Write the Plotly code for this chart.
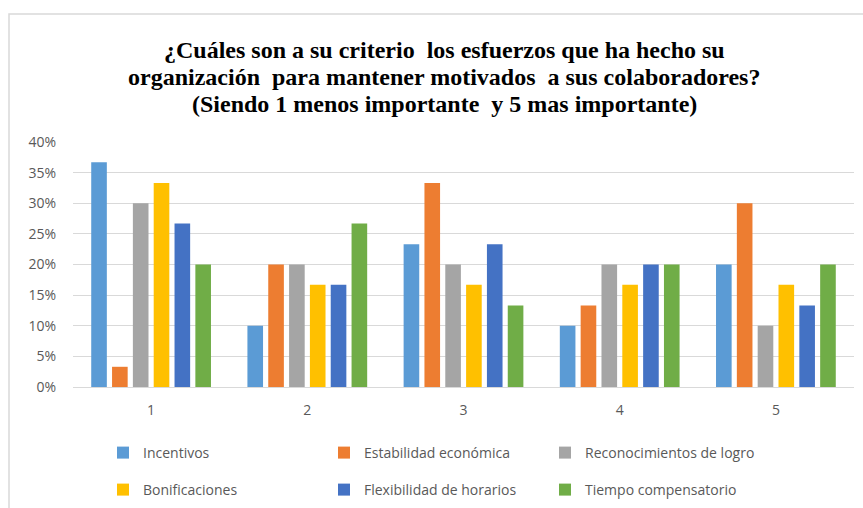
import plotly.graph_objects as go

# Survey results: share of respondents per rating (1 = least, 5 = most important)
ratings = ["1", "2", "3", "4", "5"]

incentivos = [0.367, 0.100, 0.233, 0.100, 0.200]
estabilidad = [0.033, 0.200, 0.333, 0.133, 0.300]
reconocimientos = [0.300, 0.200, 0.200, 0.200, 0.100]
bonificaciones = [0.333, 0.167, 0.167, 0.167, 0.167]
flexibilidad = [0.267, 0.167, 0.233, 0.200, 0.133]
tiempo = [0.200, 0.267, 0.133, 0.200, 0.200]

series_names = [
    "Incentivos",
    "Estabilidad económica",
    "Reconocimientos de logro",
    "Bonificaciones",
    "Flexibilidad de horarios",
    "Tiempo compensatorio",
]
series_values = [incentivos, estabilidad, reconocimientos, bonificaciones, flexibilidad, tiempo]
colors = ["#5B9BD5", "#ED7D31", "#A5A5A5", "#FFC000", "#4472C4", "#70AD47"]

title_lines = [
    "¿Cuáles son a su criterio  los esfuerzos que ha hecho su",
    "organización  para mantener motivados  a sus colaboradores?",
    "(Siendo 1 menos importante  y 5 mas importante)",
]

W, H = 863, 508
L, R, T, B = 73, 9, 142, 121
TEXT = "#595959"
GRID = "#D9D9D9"
FONT = "Open Sans"
SERIF = "Times New Roman, Liberation Serif, serif"

fig = go.Figure()
for i, (name, vals, col) in enumerate(zip(series_names, series_values, colors)):
    fig.add_trace(go.Bar(
        x=ratings, y=vals, name=name, marker_color=col,
        marker_line_width=0,
        legend="legend" if i < 3 else "legend2",
    ))

legend_common = dict(
    orientation="h", xref="container", yref="container",
    x=103 / W, xanchor="left", yanchor="middle",
    entrywidth=176, entrywidthmode="pixels", itemwidth=30,
    font=dict(family=FONT, size=14, color=TEXT),
    bgcolor="rgba(0,0,0,0)", traceorder="normal",
)

pw = W - L - R
ph = H - T - B

# Three centred title lines, one annotation each for tight line spacing
title_y = [50, 77, 104]
annotations = [
    dict(
        text=f"<b>{line}</b>", xref="paper", yref="paper",
        x=(444 - L) / pw, y=1 + (T - yy) / ph,
        xanchor="center", yanchor="middle", showarrow=False,
        font=dict(family=SERIF, size=24, color="#000000"),
    )
    for line, yy in zip(title_lines, title_y)
]

fig.update_layout(
    width=W, height=H,
    margin=dict(l=L, r=R, t=T, b=B),
    paper_bgcolor="white", plot_bgcolor="white",
    barmode="group", bargap=0.2, bargroupgap=0.25,
    annotations=annotations,
    legend=dict(legend_common, y=1 - 453 / H),
    legend2=dict(legend_common, y=1 - 490 / H),
    xaxis=dict(
        showline=True, linecolor=GRID, linewidth=1,
        ticks="", ticklabelstandoff=10,
        tickfont=dict(family=FONT, size=14, color=TEXT),
        showgrid=False,
    ),
    yaxis=dict(
        range=[0, 0.40], dtick=0.05, tickformat=".0%",
        showgrid=True, gridcolor=GRID, gridwidth=1,
        zeroline=False, showline=False,
        ticks="", ticklabelstandoff=16,
        tickfont=dict(family=FONT, size=14, color=TEXT),
    ),
)

# Light frame around the chart area
fig.add_shape(
    type="rect", xref="paper", yref="paper",
    x0=(9 - L) / pw, x1=(W + 5 - L) / pw,
    y0=1 + (T - (H + 5)) / ph, y1=1 + (T - 14) / ph,
    line=dict(color=GRID, width=1.5), fillcolor="rgba(0,0,0,0)", layer="below",
)

fig.write_html("out.html")
